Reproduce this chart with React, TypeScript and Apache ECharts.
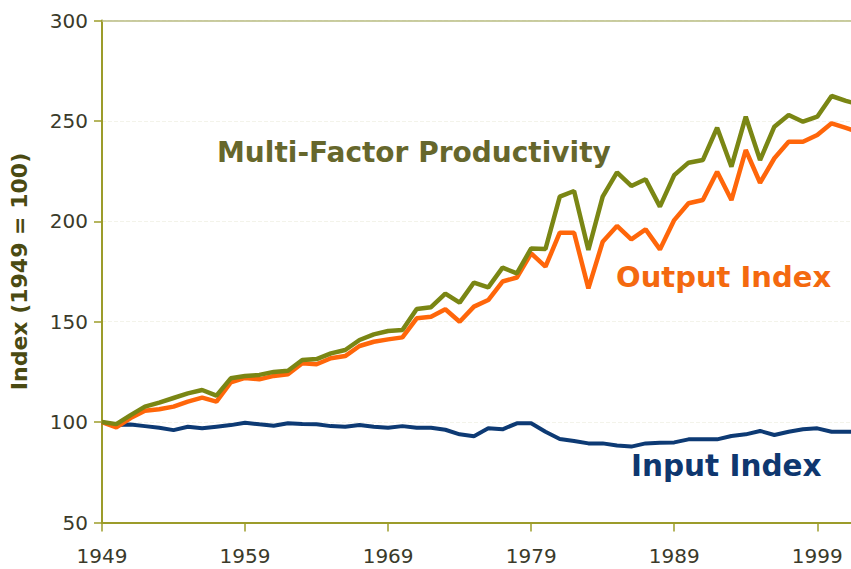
import React, { useEffect, useRef } from "react";
import * as echarts from "echarts";

const years: number[] = [];
for (let y = 1949; y <= 2002; y++) years.push(y);

const mfpValues = [
  100, 99, 103.5, 107.7, 109.7, 112, 114.3, 116, 113.2, 121.8,
  123, 123.5, 125, 125.6, 130.9, 131.4, 134.2, 135.9, 140.9, 143.7,
  145.4, 145.9, 156.3, 157.2, 164, 159.5, 169.5, 167.1, 176.9, 174.1,
  186.5, 186.2, 212.3, 215.1, 185.7, 212.3, 224.4, 217.6, 220.9, 207.3,
  223, 229.2, 230.5, 246.6, 227.2, 252.1, 230.5, 247.1, 252.9, 249.6,
  252.1, 262.4, 260, 258,
];

const outputValues = [
  100, 97.4, 102, 105.6, 106.4, 107.7, 110.2, 112.2, 110.2, 119.8,
  122, 121.3, 123, 123.8, 129.3, 128.8, 131.8, 132.9, 137.9, 140,
  141.2, 142.2, 151.7, 152.5, 156.2, 150, 157.5, 160.8, 170, 172,
  184, 177.4, 194.3, 194.3, 166.6, 189.8, 197.7, 191, 196, 186,
  200.6, 209, 210.6, 224.7, 210.6, 235.5, 219.2, 231.4, 239.6, 239.6,
  243, 248.8, 246.5, 244,
];

const inputValues = [
  100, 98.5, 98.8, 98, 97.2, 96, 97.7, 96.9, 97.7, 98.5,
  99.7, 98.9, 98.2, 99.4, 99, 98.9, 98, 97.7, 98.5, 97.7,
  97.2, 98, 97.2, 97.2, 96.2, 93.9, 93, 96.9, 96.4, 99.4,
  99.4, 95.2, 91.6, 90.6, 89.4, 89.4, 88.3, 87.8, 89.4, 89.7,
  89.9, 91.4, 91.4, 91.4, 93.1, 93.9, 95.6, 93.6, 95.2, 96.4,
  96.9, 95.2, 95.2, 95.2,
];

const seriesNames = ["Input Index", "Output Index", "Multi-Factor Productivity"];
const yTicks = { min: 50, max: 300, interval: 50 };
const yAxisTitle = "Index (1949 = 100)";

const pairs = (vals: number[]) => years.map((y, i) => [y, vals[i]]);

export default function App() {
  const ref = useRef<HTMLDivElement>(null);
  useEffect(() => {
    if (!ref.current) return;
    const chart = echarts.init(ref.current, undefined, { renderer: "svg" });
    const axisColor = "#9c9c2a";
    const labelColor = "#3a3a2a";
    const font = "DejaVu Sans, Verdana, sans-serif";
    chart.setOption({
      animation: false,
      backgroundColor: "#ffffff",
      grid: { left: 99.5, right: 25.5, top: 20.5, bottom: 46.5 },
      xAxis: [
        {
          type: "value",
          min: 1949,
          max: 2003,
          interval: 10,
          axisLine: { show: true, lineStyle: { color: axisColor, width: 2 } },
          axisTick: { show: true, length: 9, inside: false, lineStyle: { color: axisColor, width: 1.5 } },
          axisLabel: {
            color: labelColor,
            fontFamily: font,
            fontSize: 20,
            margin: 23,
            showMaxLabel: false,
            formatter: (v: number) => String(v),
          },
          splitLine: { show: false },
        },
        {
          type: "value",
          position: "top",
          min: 1949,
          max: 2003,
          axisLine: { show: true, lineStyle: { color: "#b9bc82", width: 1.5 } },
          axisTick: { show: false },
          axisLabel: { show: false },
          splitLine: { show: false },
        },
      ],
      yAxis: {
        type: "value",
        min: yTicks.min,
        max: yTicks.max,
        interval: yTicks.interval,
        name: yAxisTitle,
        nameLocation: "middle",
        nameRotate: 90,
        nameGap: 72,
        nameTextStyle: { color: "#4a4a12", fontFamily: font, fontWeight: "bold", fontSize: 22 },
        axisLine: { show: true, lineStyle: { color: axisColor, width: 2 } },
        axisTick: { show: true, length: 8, lineStyle: { color: axisColor, width: 1.5 } },
        axisLabel: { color: labelColor, fontFamily: font, fontSize: 20, margin: 14 },
        splitLine: { show: true, lineStyle: { color: "#f3f3ea", width: 1, type: "dashed" } },
      },
      series: [
        {
          name: seriesNames[0],
          type: "line",
          data: pairs(inputValues),
          showSymbol: false,
          lineStyle: { color: "#0d3a74", width: 4 },
          itemStyle: { color: "#0d3a74" },
        },
        {
          name: seriesNames[1],
          type: "line",
          data: pairs(outputValues),
          showSymbol: false,
          lineStyle: { color: "#ff660a", width: 4.5 },
          itemStyle: { color: "#ff660a" },
        },
        {
          name: seriesNames[2],
          type: "line",
          data: pairs(mfpValues),
          showSymbol: false,
          lineStyle: { color: "#7a8614", width: 4.5 },
          itemStyle: { color: "#7a8614" },
        },
      ],
      graphic: [
        {
          type: "text",
          left: 217,
          top: 138,
          style: { text: seriesNames[2], fill: "#66672c", font: `bold 28px ${font}` },
        },
        {
          type: "text",
          left: 616,
          top: 262,
          style: { text: seriesNames[1], fill: "#f4690f", font: `bold 29px ${font}` },
        },
        {
          type: "text",
          left: 631,
          top: 451,
          style: { text: seriesNames[0], fill: "#0e376f", font: `bold 29.5px ${font}` },
        },
      ],
    });
    return () => chart.dispose();
  }, []);
  return (
    <div style={{ position: "absolute", left: 0, top: 0, width: 851, height: 569, overflow: "hidden", background: "#fff" }}>
      <div ref={ref} style={{ width: 900, height: 569 }} />
    </div>
  );
}
